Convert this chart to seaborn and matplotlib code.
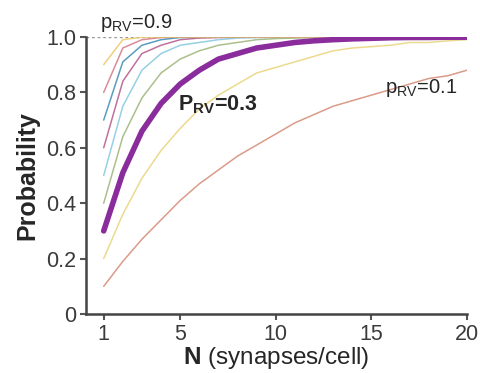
import matplotlib
matplotlib.use("Agg")
import matplotlib.pyplot as plt
import seaborn as sns
import pandas as pd

# data
n_syn = list(range(1, 21))
p_rv = [0.1, 0.2, 0.3, 0.4, 0.5, 0.6, 0.7, 0.8, 0.9]

prob_01 = [0.10, 0.19, 0.27, 0.34, 0.41, 0.47, 0.52, 0.57, 0.61, 0.65,
           0.69, 0.72, 0.75, 0.77, 0.79, 0.81, 0.83, 0.85, 0.86, 0.88]
prob_02 = [0.20, 0.36, 0.49, 0.59, 0.67, 0.74, 0.79, 0.83, 0.87, 0.89,
           0.91, 0.93, 0.95, 0.96, 0.965, 0.97, 0.98, 0.98, 0.986, 0.99]
prob_03 = [0.30, 0.51, 0.66, 0.76, 0.83, 0.88, 0.92, 0.94, 0.96, 0.97,
           0.98, 0.986, 0.99, 0.993, 0.995, 0.997, 0.998, 0.998, 0.999, 0.999]
prob_04 = [0.40, 0.64, 0.78, 0.87, 0.92, 0.95, 0.97, 0.98, 0.99, 0.994,
           0.996, 0.998, 0.999, 0.999, 1.0, 1.0, 1.0, 1.0, 1.0, 1.0]
prob_05 = [0.50, 0.75, 0.88, 0.94, 0.97, 0.98, 0.99, 0.996, 0.998, 0.999,
           1.0, 1.0, 1.0, 1.0, 1.0, 1.0, 1.0, 1.0, 1.0, 1.0]
prob_06 = [0.60, 0.84, 0.94, 0.97, 0.99, 0.996, 0.998, 0.999, 1.0, 1.0,
           1.0, 1.0, 1.0, 1.0, 1.0, 1.0, 1.0, 1.0, 1.0, 1.0]
prob_07 = [0.70, 0.91, 0.97, 0.99, 0.998, 0.999, 1.0, 1.0, 1.0, 1.0,
           1.0, 1.0, 1.0, 1.0, 1.0, 1.0, 1.0, 1.0, 1.0, 1.0]
prob_08 = [0.80, 0.96, 0.99, 0.998, 1.0, 1.0, 1.0, 1.0, 1.0, 1.0,
           1.0, 1.0, 1.0, 1.0, 1.0, 1.0, 1.0, 1.0, 1.0, 1.0]
prob_09 = [0.90, 0.99, 0.999, 1.0, 1.0, 1.0, 1.0, 1.0, 1.0, 1.0,
           1.0, 1.0, 1.0, 1.0, 1.0, 1.0, 1.0, 1.0, 1.0, 1.0]

all_probs = [prob_01, prob_02, prob_03, prob_04, prob_05,
             prob_06, prob_07, prob_08, prob_09]

colors = ["#d48a74", "#e8d47a", "#8a2c9c", "#9cb478", "#84c8e0",
          "#b4588a", "#3c8cb4", "#d47884", "#ecc868"]

rows = []
for p, vals in zip(p_rv, all_probs):
    for n, v in zip(n_syn, vals):
        rows.append({"N": n, "prob": v, "p": p})
df = pd.DataFrame(rows)

sns.set_style("ticks")
plt.rcParams['font.family'] = ['Liberation Sans', 'DejaVu Sans']
plt.rcParams['mathtext.fontset'] = 'custom'
plt.rcParams['mathtext.rm'] = 'Liberation Sans'
plt.rcParams['mathtext.it'] = 'Liberation Sans:italic'
plt.rcParams['mathtext.bf'] = 'Liberation Sans:bold'

fig = plt.figure(figsize=(4.81, 3.73), dpi=100)
ax = fig.add_axes([0.179, 0.158, 0.792, 0.743])

# dotted line at 1.0
ax.axhline(1.0, color="#999999", lw=1, ls=(0, (2, 2)), zorder=0)

for p, c in zip(p_rv, colors):
    sub = df[df["p"] == p]
    lw = 4 if p == 0.3 else 1.1
    alpha = 1.0 if p == 0.3 else 0.85
    sns.lineplot(data=sub, x="N", y="prob", color=c, lw=lw, alpha=alpha,
                 ax=ax, zorder=3 if p == 0.3 else 2)

ax.set_xlim(0.08, 20)
ax.set_ylim(0, 1.0)
ax.set_xticks([1, 5, 10, 15, 20])
ax.set_yticks([0, 0.2, 0.4, 0.6, 0.8, 1.0])
ax.set_yticklabels(["0", "0.2", "0.4", "0.6", "0.8", "1.0"])
ax.tick_params(labelsize=15.5, colors="#555555", labelcolor="#3a3a3a",
               width=1.5, length=4, pad=3)
for s in ["left", "bottom"]:
    ax.spines[s].set_linewidth(1.8)
    ax.spines[s].set_color("#444444")
sns.despine(ax=ax)

ax.set_xlabel(r"$\mathbf{N}$ (synapses/cell)", fontsize=17.5, labelpad=0)
ax.set_ylabel("Probability", fontsize=18, fontweight="bold", labelpad=5)

ax.text(0.81, 1.032, r"p$_{\rm RV}$=0.9", fontsize=14.5,
        ha="left", va="baseline", clip_on=False)
ax.text(4.9, 0.736, r"P$_\mathbf{RV}$=0.3", fontsize=15.5, fontweight="bold",
        ha="left", va="baseline")
ax.text(15.7, 0.798, r"p$_{\rm RV}$=0.1", fontsize=14.5,
        ha="left", va="baseline")

fig.savefig("out.png", dpi=100)
